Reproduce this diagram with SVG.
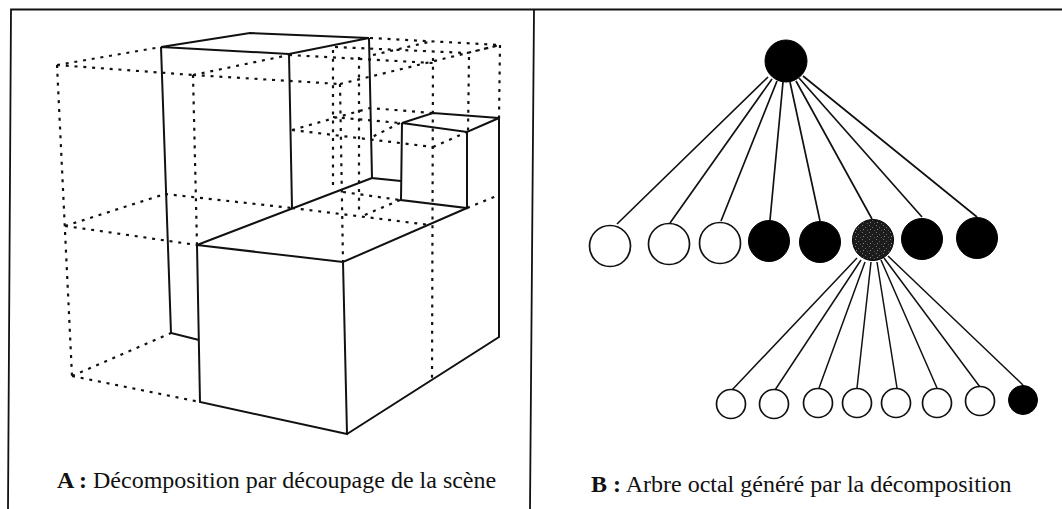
<svg xmlns="http://www.w3.org/2000/svg" width="1062" height="509" viewBox="0 0 1062 509">
<style>
.frame{fill:none;stroke:#111;stroke-width:1.8}
.solid{fill:none;stroke:#111;stroke-width:2;stroke-linejoin:miter}
.dot{fill:none;stroke:#111;stroke-width:2.2;stroke-dasharray:3 5.8}
.edge{fill:none;stroke:#111;stroke-width:1.7}
.sub{fill:none;stroke:#111;stroke-width:1.5}
.leaf{fill:#fff;stroke:#111;stroke-width:1.7}
.full{fill:#000;stroke:#000;stroke-width:1}
.mixed{fill:url(#speckle);stroke:#000;stroke-width:1}
text{font-family:"Liberation Serif","Times New Roman",serif;font-size:24px;fill:#111}
.b{font-weight:bold}
</style>
<defs>
<pattern id="speckle" width="7" height="7" patternUnits="userSpaceOnUse">
<rect width="7" height="7" fill="#1c1c1c"/>
<rect x="1" y="1" width="1" height="1" fill="#777"/>
<rect x="4" y="3" width="1" height="1" fill="#666"/>
<rect x="2" y="5" width="1" height="1" fill="#888"/>
<rect x="6" y="6" width="1" height="1" fill="#555"/>
</pattern>
</defs>
<rect width="1062" height="509" fill="#fff"/>
<g id="frame">
<path class="frame" d="M1062 9.5H11L8 509M534 9.5L530 509"/>
</g>
<g id="scene-dotted">
<path class="dot" d="M57 65L161 47M57 65L193 75M57 65L72 376M72 376L171 333M72 376L200 402M193 75L197 245M193 75L289 55"/>
<path class="dot" d="M193 75L340 84M340 84L500 45M289 55L433 63M370 38L500 45M335 47L467 53L500 45M373 55L433 41M500 45L499 118"/>
<path class="dot" d="M333 50L333 190M359 57L359 213M340 84L343 262M433 58L432 381M469 57L468 132"/>
<path class="dot" d="M65 226L165 194M65 226L197 245M165 194L292 208"/>
<path class="dot" d="M292 130L433 147M292 130L370 108L432 113M333 117L400 123M400 123L370 138M433 147L467 132"/>
<path class="dot" d="M343 192L400 200M400 200L360 217M292 208L430 225M467 208L499 195"/>
</g>
<g id="scene-solid">
<path class="solid" d="M161 47L250 33L369 38L289 54ZM161 47L171 333L199 340M289 54L292 208M369 38L372 178L401 181"/>
<path class="solid" d="M197 245L372 178M197 245L343 262L467 208M197 245L200 402L347 434L343 262M347 434L499 337L499 118"/>
<path class="solid" d="M402 123L433 113L499 118L467 132ZM402 123L401 200L467 208L467 132"/>
</g>
<g id="connectors">
<path class="edge" d="M768 77L617 224M772 79L670 223M777 81L721 221M783 82L770 220M790 82L820 221M796 81L872 219M799 78L922 217M803 76L977 217"/>
<path class="sub" d="M857 258L732 390M861 260L775 390M865 262L819 388M871 262L857 388M877 262L897 388M881 260L937 388M884 258L980 387M888 256L1023 385"/>
</g>
<g id="root"><circle class="full" cx="786" cy="61" r="21"/></g>
<g id="n1"><circle class="leaf" cx="610" cy="246" r="20.5"/></g>
<g id="n2"><circle class="leaf" cx="669" cy="244" r="20.5"/></g>
<g id="n3"><circle class="leaf" cx="720" cy="243" r="20.5"/></g>
<g id="n4"><circle class="full" cx="769" cy="241" r="20.5"/></g>
<g id="n5"><circle class="full" cx="820" cy="242" r="20.5"/></g>
<g id="n6"><circle class="mixed" cx="873" cy="240" r="20.5"/></g>
<g id="n7"><circle class="full" cx="922" cy="239" r="20.5"/></g>
<g id="n8"><circle class="full" cx="977" cy="238" r="20.5"/></g>
<g id="m1"><circle class="leaf" cx="731" cy="404" r="14.5"/></g>
<g id="m2"><circle class="leaf" cx="774" cy="404" r="14.5"/></g>
<g id="m3"><circle class="leaf" cx="818" cy="403" r="14.5"/></g>
<g id="m4"><circle class="leaf" cx="857" cy="403" r="14.5"/></g>
<g id="m5"><circle class="leaf" cx="896" cy="403" r="14.5"/></g>
<g id="m6"><circle class="leaf" cx="937" cy="403" r="14.5"/></g>
<g id="m7"><circle class="leaf" cx="980" cy="401" r="14.5"/></g>
<g id="m8"><circle class="full" cx="1023" cy="400" r="14.5"/></g>
<text x="57" y="488"><tspan class="b">A :</tspan> Décomposition par découpage de la scène</text>
<text x="591" y="492"><tspan class="b">B :</tspan> Arbre octal généré par la décomposition</text>
</svg>
